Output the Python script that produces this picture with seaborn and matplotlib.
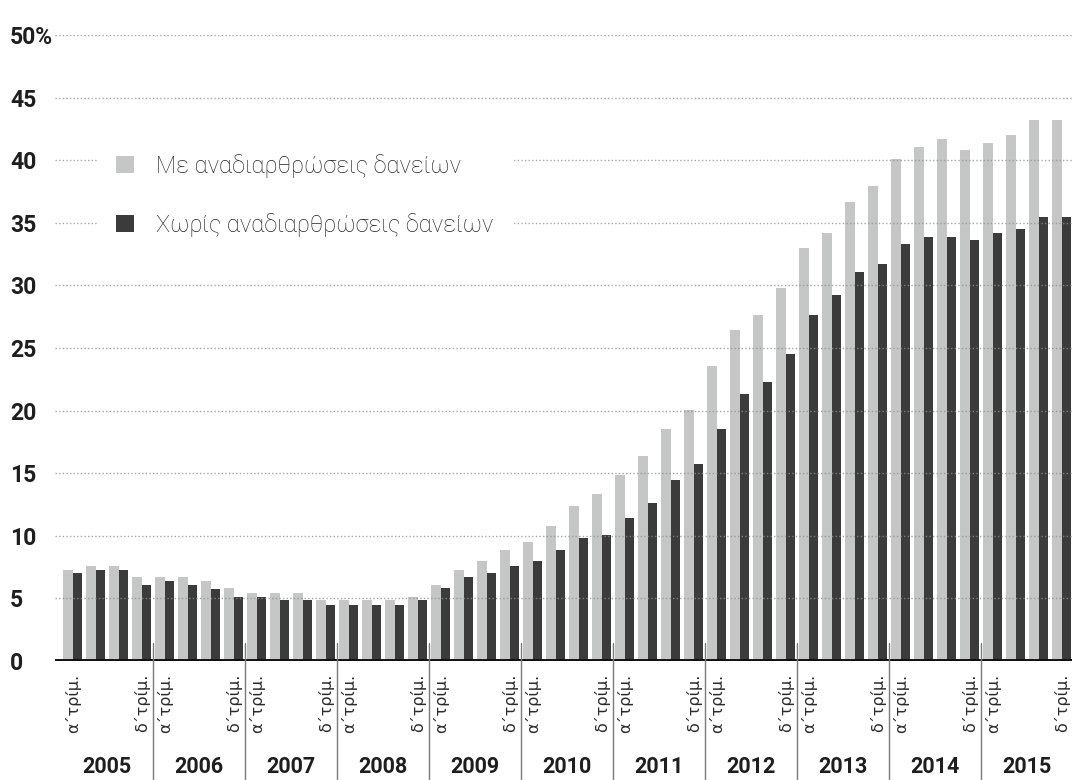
import matplotlib
matplotlib.use("Agg")
import matplotlib.pyplot as plt
import matplotlib.transforms as mtransforms
from matplotlib import font_manager
import seaborn as sns
import pandas as pd

# Ratio of non-performing loans (%), quarterly 2005-2015
years = [2005, 2006, 2007, 2008, 2009, 2010, 2011, 2012, 2013, 2014, 2015]
quarters = ["Q1", "Q2", "Q3", "Q4"]
series_names = ["Με αναδιαρθρώσεις δανείων", "Χωρίς αναδιαρθρώσεις δανείων"]

with_restructuring = [
    7.3, 7.6, 7.6, 6.7,
    6.7, 6.7, 6.4, 5.8,
    5.45, 5.45, 5.45, 4.9,
    4.9, 4.9, 4.9, 5.1,
    6.05, 7.3, 7.95, 8.9,
    9.5, 10.8, 12.4, 13.3,
    14.85, 16.35, 18.5, 20.05,
    23.6, 26.4, 27.65, 29.8,
    32.95, 34.2, 36.7, 37.9,
    40.1, 41.05, 41.7, 40.8,
    41.4, 42.0, 43.25, 43.25,
]
without_restructuring = [
    7.0, 7.3, 7.3, 6.05,
    6.35, 6.05, 5.75, 5.1,
    5.1, 4.9, 4.85, 4.5,
    4.45, 4.45, 4.45, 4.85,
    5.8, 6.7, 7.0, 7.6,
    7.95, 8.9, 9.8, 10.1,
    11.4, 12.6, 14.45, 15.7,
    18.55, 21.3, 22.3, 24.5,
    27.65, 29.2, 31.1, 31.7,
    33.3, 33.9, 33.9, 33.6,
    34.2, 34.5, 35.45, 35.45,
]

y_ticks = [0, 5, 10, 15, 20, 25, 30, 35, 40, 45, 50]
y_tick_labels = ["0", "5", "10", "15", "20", "25", "30", "35", "40", "45", "50%"]
first_q_label = "α΄τρίμ."
last_q_label = "δ΄τρίμ."

light_grey = "#c5c6c6"
dark_grey = "#3b3b3b"

periods = [f"{y} {q}" for y in years for q in quarters]
df = pd.DataFrame({
    "period": periods * 2,
    "value": with_restructuring + without_restructuring,
    "series": [series_names[0]] * len(periods) + [series_names[1]] * len(periods),
})

sns.set_theme(style="white")
available = {f.name for f in font_manager.fontManager.ttflist}
bold_family = "Roboto" if "Roboto" in available else "DejaVu Sans"
if "Liberation Sans Narrow" in available:
    legend_family, legend_size, legend_weight = "Liberation Sans Narrow", 21, "normal"
elif "Roboto" in available:
    legend_family, legend_size, legend_weight = "Roboto", 16.9, "light"
else:
    legend_family, legend_size, legend_weight = "DejaVu Sans", 16, "normal"
plt.rcParams["font.family"] = ["DejaVu Sans"]

W, H = 1072, 780
fig = plt.figure(figsize=(W / 100, H / 100), dpi=100)
ax_left, ax_bottom, ax_top = 55, 119, 745
ax = fig.add_axes([ax_left / W, ax_bottom / H, (W - ax_left) / W, (ax_top - ax_bottom) / H])

sns.barplot(
    data=df, x="period", y="value", hue="series", order=periods,
    hue_order=series_names, palette=[light_grey, dark_grey],
    width=0.85, gap=0, saturation=1, ax=ax, legend=True, zorder=2,
)
for patch in ax.patches:
    patch.set_edgecolor("none")
    patch.set_linewidth(0)

ax.set_ylim(0, 50)
ax.set_xlim(-0.77, len(periods) - 1 + 0.45)
for s in ax.spines.values():
    s.set_visible(False)
ax.set_xlabel("")
ax.set_ylabel("")

# dotted horizontal reference lines, drawn over the bars
for v in y_ticks[1:]:
    ax.axhline(v, color="#8f8f8f", lw=1.0, linestyle=(0, (1, 1.6)), zorder=3, alpha=0.8)
# zero baseline
ax.axhline(0, color="#111111", lw=2.8, zorder=4)

# y axis labels, left aligned
ax.set_yticks(y_ticks)
ax.set_yticklabels(y_tick_labels, fontfamily=bold_family, fontweight="bold",
                   fontsize=16.5, color="#1e1e1e", ha="left")
ax.tick_params(axis="y", length=0, pad=45 * 72 / 100)

# quarter labels under first and last quarter of each year
tick_pos, tick_lab = [], []
for i in range(len(years)):
    tick_pos += [4 * i, 4 * i + 3]
    tick_lab += [first_q_label, last_q_label]
ax.set_xticks(tick_pos)
ax.set_xticklabels(tick_lab, rotation=90, fontsize=11.5, color="#2a2a2a",
                   va="top", ha="center")
ax.tick_params(axis="x", length=0, pad=9)

trans = mtransforms.blended_transform_factory(ax.transData, ax.transAxes)
axes_h = ax_top - ax_bottom
# year names and separators between years
for i, yr in enumerate(years):
    ax.text(4 * i + 1.5, (13 - ax_bottom) / axes_h, str(yr), transform=trans,
            ha="center", va="center", fontsize=15.5, fontweight="bold",
            fontfamily=bold_family, color="#1e1e1e")
    if i > 0:
        xs = 4 * i - 0.5
        ax.plot([xs, xs], [1.45 / 50, -ax_bottom / axes_h], transform=trans,
                color="#7a7a7a", lw=1.0, clip_on=False, zorder=5)

# legend with square markers on a white panel
leg = ax.legend(
    loc="upper left", bbox_to_anchor=(97 / W, (H - 135) / H),
    bbox_transform=fig.transFigure, frameon=True, facecolor="white",
    edgecolor="none", framealpha=1, fancybox=False,
    prop={"family": legend_family, "size": legend_size, "weight": legend_weight},
    handlelength=0.78, handleheight=0.78, handletextpad=0.95,
    labelspacing=1.5, borderpad=0.8, borderaxespad=0,
)
leg.set_zorder(10)
for t in leg.get_texts():
    t.set_color("#222222")

fig.savefig("out.png", dpi=100, facecolor="white")
